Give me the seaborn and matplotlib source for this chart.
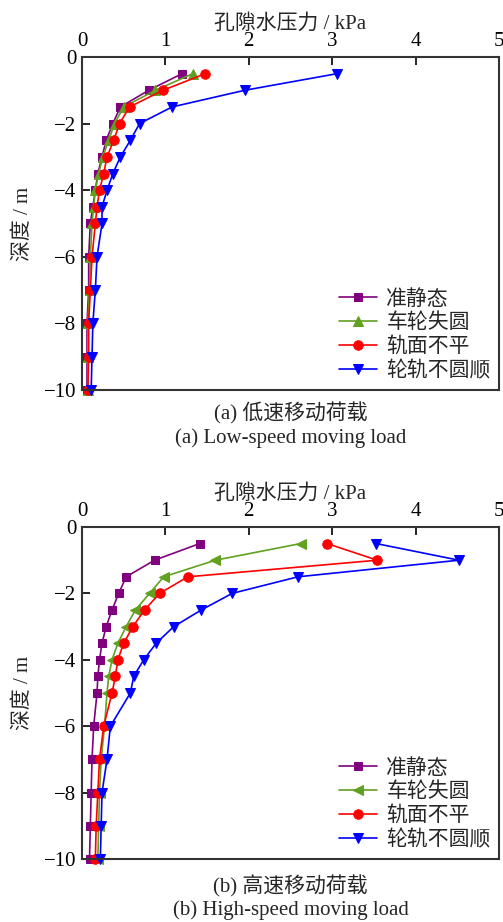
import numpy as np
import pandas as pd
import matplotlib
matplotlib.use("Agg")
import matplotlib.pyplot as plt
import seaborn as sns

sns.set_theme(style="ticks")
plt.rcParams["font.family"] = ["Liberation Serif", "Noto Sans CJK SC"]
plt.rcParams["axes.unicode_minus"] = True

# Depth of the monitoring points (m)
depth = [-0.5, -1.0, -1.5, -2.0, -2.5, -3.0, -3.5, -4.0, -4.5, -5.0,
         -6.0, -7.0, -8.0, -9.0, -10.0]

series_names = ["准静态", "车轮失圆", "轨面不平", "轮轨不圆顺"]

# Pore water pressure (kPa), low-speed moving load
low_quasi_static = [1.20, 0.80, 0.46, 0.37, 0.29, 0.24, 0.19, 0.16, 0.13, 0.10,
                    0.08, 0.08, 0.06, 0.06, 0.06]
low_wheel_oor = [1.33, 0.88, 0.50, 0.39, 0.32, 0.25, 0.20, 0.16, 0.14, 0.12,
                 0.10, 0.09, 0.07, 0.07, 0.07]
low_rail_irreg = [1.48, 0.97, 0.57, 0.45, 0.38, 0.30, 0.26, 0.21, 0.18, 0.16,
                  0.12, 0.10, 0.08, 0.08, 0.07]
low_wheel_rail = [3.06, 1.95, 1.08, 0.69, 0.58, 0.46, 0.37, 0.30, 0.24, 0.24,
                  0.18, 0.16, 0.13, 0.12, 0.11]

# Pore water pressure (kPa), high-speed moving load
high_quasi_static = [1.41, 0.87, 0.53, 0.44, 0.36, 0.29, 0.24, 0.21, 0.19, 0.18,
                     0.14, 0.12, 0.11, 0.10, 0.09]
high_wheel_oor = [2.62, 1.60, 0.98, 0.81, 0.64, 0.53, 0.43, 0.36, 0.32, 0.30,
                  0.27, 0.23, 0.21, 0.20, 0.19]
high_rail_irreg = [2.94, 3.54, 1.27, 0.93, 0.75, 0.61, 0.50, 0.43, 0.40, 0.36,
                   0.26, 0.21, 0.19, 0.17, 0.16]
high_wheel_rail = [3.53, 4.52, 2.59, 1.80, 1.43, 1.10, 0.89, 0.74, 0.62, 0.58,
                   0.34, 0.30, 0.24, 0.23, 0.22]

x_ticks = [0, 1, 2, 3, 4, 5]
y_ticks = [0, -2, -4, -6, -8, -10]

colors = ["#800080", "#62a020", "#ff0000", "#0000ff"]

panels = [
    dict(values=[low_quasi_static, low_wheel_oor, low_rail_irreg, low_wheel_rail],
         markers=["s", "^", "o", "v"],
         caption_cn="(a) 低速移动荷载", caption_en="(a) Low-speed moving load",
         rect=[82 / 503, 1 - 390 / 922, 417 / 503, 333 / 922],
         cap_y=(1 - 413 / 922, 1 - 438 / 922)),
    dict(values=[high_quasi_static, high_wheel_oor, high_rail_irreg, high_wheel_rail],
         markers=["s", "<", "o", "v"],
         caption_cn="(b) 高速移动荷载", caption_en="(b) High-speed moving load",
         rect=[82 / 503, 1 - 859 / 922, 417 / 503, 332 / 922],
         cap_y=(1 - 886 / 922, 1 - 910 / 922)),
]

fig = plt.figure(figsize=(5.03, 9.22), dpi=100)
fs = 15

for p in panels:
    ax = fig.add_axes(p["rect"])
    for name, vals, mk, c in zip(series_names, p["values"], p["markers"], colors):
        df = pd.DataFrame({"pressure": vals, "depth": depth})
        ms = 6 if mk == "s" else 6.8
        sns.lineplot(data=df, x="pressure", y="depth", sort=False, orient="y",
                     color=c, marker=mk, markersize=ms, markeredgecolor=c,
                     linewidth=1.2, label=name, ax=ax, clip_on=False)
    ax.set_xlim(0, 5)
    ax.set_ylim(-10, 0)
    ax.set_xticks(x_ticks)
    ax.set_yticks(y_ticks)
    ax.xaxis.tick_top()
    ax.xaxis.set_label_position("top")
    ax.set_xlabel("孔隙水压力 / kPa", fontsize=fs, labelpad=3)
    ax.set_ylabel("深度 / m", fontsize=fs, labelpad=8)
    ax.tick_params(axis="both", direction="in", length=6, width=1.2,
                   labelsize=fs, colors="black", pad=4)
    ax.tick_params(axis="x", bottom=False, top=True)
    ax.tick_params(axis="y", left=True, right=False)
    for s in ax.spines.values():
        s.set_visible(True)
        s.set_linewidth(1.5)
        s.set_color("#333333")
    ax.legend(loc="lower right", frameon=False, fontsize=fs, handlelength=1.8,
              handletextpad=0.45, labelspacing=0.2, borderaxespad=0.0)
    cx = p["rect"][0] + p["rect"][2] / 2
    fig.text(cx, p["cap_y"][0], p["caption_cn"], ha="center", va="center", fontsize=fs)
    fig.text(cx, p["cap_y"][1], p["caption_en"], ha="center", va="center", fontsize=fs)

fig.savefig("out.png", dpi=100)
